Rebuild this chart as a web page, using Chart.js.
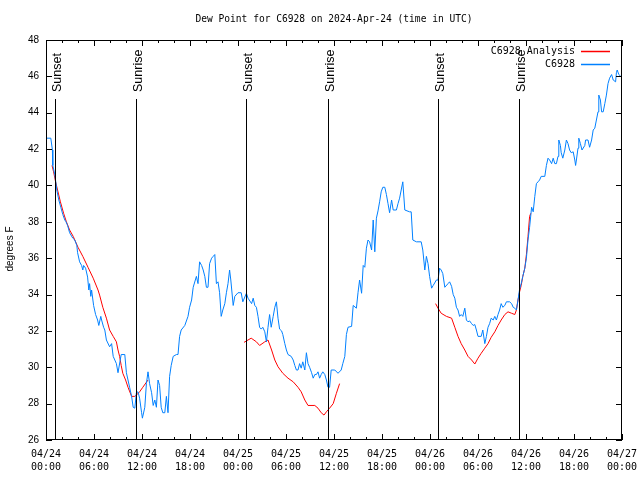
<!DOCTYPE html>
<html>
<head>
<meta charset="utf-8">
<title>Dew Point for C6928</title>
<script src="https://cdn.jsdelivr.net/npm/chart.js@4"></script>
<style>
  html, body { margin: 0; padding: 0; background: #fff; }
  #wrap { width: 640px; height: 480px; }
</style>
</head>
<body>
<div id="wrap"><canvas id="chart" width="640" height="480"></canvas></div>
<script>
/* Dew point, station obs vs analysis — hours since 04/24 00:00 UTC */
const TITLE = 'Dew Point for C6928 on 2024-Apr-24 (time in UTC)';
const Y_TITLE = 'degrees F';
const SERIES_NAMES = ['C6928 Analysis', 'C6928'];

const X_TICK_DATES = ['04/24','04/24','04/24','04/24','04/25','04/25','04/25','04/25','04/26','04/26','04/26','04/26','04/27'];
const X_TICK_TIMES = ['00:00','06:00','12:00','18:00','00:00','06:00','12:00','18:00','00:00','06:00','12:00','18:00','00:00'];

const SUN_HOURS  = [1.1, 11.2, 24.95, 35.25, 49.0, 59.1];
const SUN_LABELS = ['Sunset','Sunrise','Sunset','Sunrise','Sunset','Sunrise'];

// observations (blue)
const OBS_HOURS = [0.0,0.6,0.8,0.85,1.1,1.35,1.6,1.85,2.1,2.35,2.5,2.7,2.95,3.35,3.6,3.85,3.95,4.2,4.45,4.6,4.7,4.95,5.2,5.35,5.45,5.6,5.7,5.95,6.2,6.45,6.6,6.85,6.95,7.2,7.35,7.55,7.95,8.2,8.4,8.8,9.0,9.4,9.85,10.05,10.45,10.7,10.9,11.1,11.3,11.5,11.7,11.95,12.05,12.35,12.55,12.75,12.95,13.2,13.4,13.6,13.8,14.0,14.2,14.4,14.6,14.85,15.05,15.25,15.45,15.65,15.9,16.3,16.5,16.7,16.9,17.35,17.75,17.95,18.2,18.4,18.8,19.0,19.2,19.45,19.65,19.85,20.05,20.25,20.45,20.7,20.9,21.1,21.3,21.5,21.7,21.9,22.1,22.35,22.55,22.75,22.95,23.1,23.4,23.6,24.0,24.4,24.6,25.05,25.25,25.7,25.9,26.1,26.3,26.5,26.7,26.9,27.1,27.35,27.55,27.75,27.95,28.15,28.4,28.6,28.8,29.0,29.2,29.45,29.6,29.85,30.05,30.25,30.65,30.9,31.1,31.3,31.5,31.7,31.9,32.1,32.35,32.55,32.75,32.95,33.2,33.4,33.6,33.8,34.0,34.2,34.4,34.6,34.85,35.05,35.25,35.45,35.65,36.1,36.5,36.9,37.1,37.35,37.55,37.75,38.2,38.4,38.8,39.0,39.2,39.45,39.65,39.85,40.05,40.25,40.45,40.7,40.9,41.1,41.3,41.5,41.7,41.9,42.1,42.35,42.55,42.75,42.95,43.2,43.4,43.8,44.0,44.2,44.4,44.6,44.85,45.45,45.65,45.85,46.3,46.9,47.1,47.35,47.55,47.75,47.95,48.2,48.4,48.8,49.0,49.2,49.4,49.6,49.85,50.25,50.45,50.7,50.9,51.1,51.3,51.5,51.7,51.9,52.1,52.35,52.55,52.75,52.95,53.2,53.4,53.6,53.8,54.0,54.4,54.6,54.85,55.05,55.25,55.45,55.65,55.9,56.1,56.3,56.5,56.7,56.9,57.1,57.35,57.55,57.95,58.2,58.4,58.6,58.8,59.0,59.2,59.4,59.6,59.85,60.05,60.25,60.45,60.7,60.9,61.1,61.3,61.5,61.7,61.9,62.35,62.55,62.75,62.95,63.2,63.4,63.6,63.8,64.0,64.1,64.3,64.4,64.6,64.85,65.05,65.25,65.45,65.65,65.9,66.1,66.2,66.3,66.5,66.6,66.8,67.0,67.1,67.35,67.45,67.75,67.95,68.2,68.4,68.6,68.8,69.0,69.1,69.3,69.45,69.65,69.85,70.05,70.25,70.45,70.7,70.9,71.2,71.3,71.4,71.6,71.85];
const OBS_DEWPT = [42.6,42.6,41.95,41.1,40.6,39.75,39.2,38.8,38.4,38.1,38.0,37.8,37.4,37.1,37.0,36.7,36.3,35.8,35.6,35.35,35.6,35.45,34.96,34.25,34.6,33.9,34.25,33.4,32.9,32.6,32.3,32.8,32.6,32.2,32.05,31.5,31.13,31.3,30.6,30.2,29.7,30.7,30.7,29.7,28.9,28.4,27.8,27.75,28.6,28.65,28.3,27.5,27.2,27.8,29.1,29.75,29.1,28.6,27.9,28.2,27.8,29.3,29.0,27.8,27.5,27.5,28.4,27.5,29.5,30.1,30.6,30.7,30.7,31.7,32.05,32.3,32.8,33.3,33.7,34.4,35.0,34.6,35.8,35.6,35.35,35.0,34.4,34.4,35.7,36.0,36.1,36.2,34.6,34.7,34.1,32.8,33.15,33.5,34.1,34.6,35.35,34.8,33.4,33.9,34.1,34.1,33.6,34.07,33.8,33.5,33.8,33.4,33.3,32.8,32.2,32.1,32.2,31.95,31.4,32.2,32.9,32.2,32.8,33.3,33.6,32.7,32.1,32.0,31.8,31.3,30.95,30.7,30.6,30.4,30.1,29.85,29.85,30.2,29.95,30.3,29.85,30.8,30.2,30.0,29.7,29.4,29.6,29.6,29.75,29.4,29.6,29.75,29.6,29.3,28.9,28.9,29.85,29.85,29.67,29.85,30.2,30.6,31.8,32.2,32.25,33.4,33.25,34.1,34.8,34.07,35.6,35.5,36.55,37.0,36.9,36.45,38.1,36.35,38.2,38.6,39.1,39.65,39.9,39.9,39.5,39.0,38.5,39.2,38.65,38.65,39.0,39.3,39.75,40.2,38.65,38.55,38.55,37.0,36.9,36.9,36.45,35.35,36.1,35.7,35.0,34.35,34.5,34.8,34.8,35.45,35.35,35.15,34.4,34.6,34.7,34.45,34.0,33.8,33.3,33.15,32.8,32.9,32.8,33.25,32.6,32.5,32.55,32.4,32.3,32.35,32.05,31.7,31.7,32.05,31.3,31.7,32.2,32.4,32.7,32.6,32.8,32.6,32.9,33.15,33.5,33.3,33.4,33.6,33.6,33.5,33.3,33.25,33.15,33.7,34.3,34.6,35.0,35.45,36.0,37.0,37.7,38.8,38.55,39.4,40.1,40.2,40.3,40.5,40.5,41.1,41.5,41.4,41.2,41.5,41.2,41.2,41.6,42.5,42.2,41.8,41.5,41.95,42.5,42.3,41.95,41.8,41.85,41.4,41.1,41.4,42.05,42.6,42.3,41.95,41.95,42.2,42.5,42.5,42.1,42.5,43.05,43.15,43.6,44.05,44.97,44.7,44.05,44.05,44.5,44.97,45.6,45.9,46.1,45.8,45.7,46.2,46.35,46.1,46.0];

// analysis (red), null = gap between runs
const ANA_HOURS = [0.75,0.95,1.2,1.5,1.8,2.2,2.55,2.95,3.4,4.0,4.6,5.25,5.9,6.5,6.7,7.1,7.55,7.95,8.4,8.8,9.0,9.2,9.4,9.6,9.95,10.25,10.7,11.1,11.3,11.7,12.1,12.75,
  18,
  24.75,25.25,25.65,26.3,26.7,27.35,27.75,28.2,28.6,29.0,29.6,30.25,30.9,31.5,31.9,32.35,32.75,33.6,34.0,34.4,34.75,35.05,35.45,35.9,36.3,36.7,
  42,
  48.7,49.0,49.4,50.05,50.7,51.1,51.5,51.9,52.35,52.75,53.2,53.6,54.0,54.4,54.85,55.25,55.65,56.1,56.5,56.9,57.35,57.75,58.2,58.6,58.8,59.0,59.2,59.4,59.6,59.85,60.05,60.25,60.45,60.6];
const ANA_DEWPT = [41.1,40.75,40.2,39.65,39.1,38.47,38.0,37.55,37.2,36.6,36.1,35.5,34.9,34.25,33.97,33.3,32.7,32.05,31.7,31.4,30.95,30.6,30.1,29.67,29.3,28.9,28.4,28.4,28.47,28.65,28.9,29.3,
  null,
  31.37,31.5,31.6,31.4,31.2,31.4,31.5,30.95,30.4,30.03,29.67,29.4,29.2,28.9,28.65,28.2,27.9,27.9,27.75,27.5,27.37,27.55,27.75,28.0,28.57,29.1,
  null,
  33.5,33.25,32.97,32.8,32.7,32.2,31.7,31.3,30.95,30.6,30.4,30.18,30.5,30.77,31.05,31.3,31.65,31.95,32.3,32.6,32.9,33.05,32.97,32.9,33.15,33.7,34.15,34.5,35.0,35.45,36.2,37.2,38.3,38.47];

const Y_MIN = 26, Y_MAX = 48, Y_STEP = 2;
const X_MIN = 0, X_MAX = 72, X_STEP = 2;

const OBS_COLOR = '#0080ff';
const ANA_COLOR = '#ff0000';
const MONO = '"DejaVu Sans Mono", monospace';
const SANS = '"Liberation Sans", Arial, sans-serif';

function pairs(xs, ys){ return xs.map((x, i) => ({ x, y: ys[i] })); }

function line(ctx, x1, y1, x2, y2){
  ctx.beginPath(); ctx.moveTo(x1, y1); ctx.lineTo(x2, y2); ctx.stroke();
}

// title, frame, inward ticks, sunrise/sunset markers, legend, y title
const decorations = {
  id: 'decorations',
  afterDraw(chart){
    const { ctx, chartArea: a, scales: { x, y } } = chart;
    ctx.save();
    ctx.fillStyle = '#000';
    ctx.font = '9.6px ' + MONO;
    ctx.textAlign = 'center';
    ctx.textBaseline = 'middle';
    ctx.fillText(TITLE, (a.left + a.right) / 2, a.top - 20.5);

    ctx.strokeStyle = '#000';
    ctx.lineWidth = 1;
    ctx.strokeRect(a.left + 0.5, a.top + 0.5, a.right - a.left - 1, a.bottom - a.top - 1);

    x.ticks.forEach(t => {
      const px = Math.round(x.getPixelForValue(t.value)) + 0.5;
      const len = t.value % 6 === 0 ? 6 : 3;
      line(ctx, px, a.bottom, px, a.bottom - len);
      line(ctx, px, a.top, px, a.top + len);
    });
    y.ticks.forEach(t => {
      const py = Math.round(y.getPixelForValue(t.value)) + 0.5;
      line(ctx, a.left, py, a.left + 6, py);
      line(ctx, a.right, py, a.right - 6, py);
    });

    ctx.font = '12.5px ' + SANS;
    SUN_HOURS.forEach((h, i) => {
      const px = Math.round(x.getPixelForValue(h)) + 0.5;
      line(ctx, px, a.top + 59, px, a.bottom);
      ctx.save();
      ctx.translate(px + 2, a.top + 52);
      ctx.rotate(-Math.PI / 2);
      ctx.textAlign = 'left';
      ctx.textBaseline = 'middle';
      ctx.fillText(SUN_LABELS[i], 0, 0);
      ctx.restore();
    });

    // legend, top right inside the plot
    ctx.font = '10px ' + MONO;
    ctx.textAlign = 'right';
    ctx.textBaseline = 'middle';
    [ANA_COLOR, OBS_COLOR].forEach((c, i) => {
      const ly = a.top + 11 + i * 13;
      ctx.fillStyle = '#000';
      ctx.fillText(SERIES_NAMES[i], a.right - 47, ly);
      ctx.strokeStyle = c;
      ctx.lineWidth = 1.5;
      line(ctx, a.right - 41, Math.round(ly) + 0.5, a.right - 12, Math.round(ly) + 0.5);
    });

    ctx.fillStyle = '#000';
    ctx.font = '10px ' + SANS;
    ctx.translate(10, (a.top + a.bottom) / 2 + 9);
    ctx.rotate(-Math.PI / 2);
    ctx.textAlign = 'center';
    ctx.textBaseline = 'middle';
    ctx.fillText(Y_TITLE, 0, 0);
    ctx.restore();
  }
};

new Chart(document.getElementById('chart'), {
  type: 'line',
  data: {
    datasets: [
      { label: SERIES_NAMES[1], data: pairs(OBS_HOURS, OBS_DEWPT), borderColor: OBS_COLOR },
      { label: SERIES_NAMES[0], data: pairs(ANA_HOURS, ANA_DEWPT), borderColor: ANA_COLOR, spanGaps: false }
    ]
  },
  options: {
    responsive: false,
    animation: false,
    devicePixelRatio: 1,
    layout: { padding: { left: 0, right: 18, top: 40, bottom: 0 } },
    elements: {
      point: { radius: 0, hoverRadius: 0 },
      line: { borderWidth: 1, tension: 0, fill: false }
    },
    plugins: {
      legend: { display: false },
      tooltip: { enabled: false },
      title: { display: false }
    },
    scales: {
      x: {
        type: 'linear', min: X_MIN, max: X_MAX,
        grid: { display: false, drawTicks: false },
        border: { display: false },
        afterFit: s => { s.height = 40; s.paddingLeft = 0; s.paddingRight = 0; },
        ticks: {
          stepSize: X_STEP, autoSkip: false, maxRotation: 0, minRotation: 0,
          color: '#000', padding: 8,
          font: { family: MONO, size: 10, lineHeight: 1.3 },
          callback: v => v % 6 === 0 ? [X_TICK_DATES[v / 6], X_TICK_TIMES[v / 6]] : ''
        }
      },
      y: {
        min: Y_MIN, max: Y_MAX,
        grid: { display: false, drawTicks: false },
        border: { display: false },
        afterFit: s => { s.width = 46; s.paddingTop = 0; s.paddingBottom = 0; },
        ticks: {
          stepSize: Y_STEP, color: '#000', padding: 7,
          font: { family: SANS, size: 10 }
        }
      }
    }
  },
  plugins: [decorations]
});
</script>
</body>
</html>
